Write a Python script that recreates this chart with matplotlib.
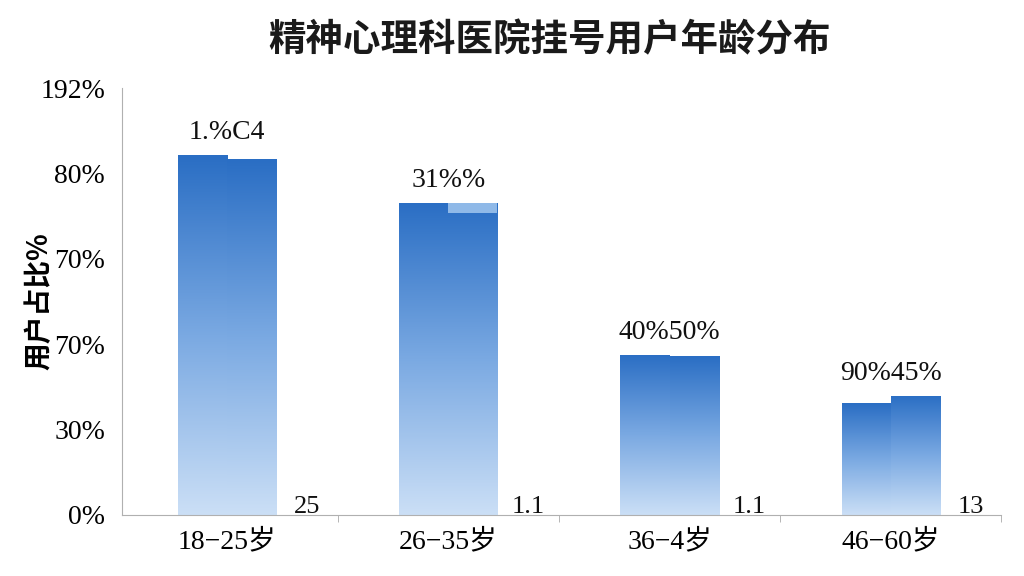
import numpy as np
import matplotlib
matplotlib.use("Agg")
import matplotlib.pyplot as plt
from matplotlib.colors import LinearSegmentedColormap

# ---------------------------------------------------------------------------
# Data
# ---------------------------------------------------------------------------
age_groups   = ["18−25岁", "26−35岁", "36−4岁", "46−60岁"]
series_left  = [84.3, 73.1, 37.5, 26.2]
series_right = [83.4, 73.1, 37.2, 27.9]
value_labels = ["1.%C4", "31%%", "40%50%", "90%45%"]
corner_notes = ["25", "1.1", "1.1", "13"]
ytick_values = [0, 20, 40, 60, 80, 100]
ytick_labels = ["0%", "30%", "70%", "70%", "80%", "192%"]

SERIF = ["Liberation Serif", "Noto Sans CJK SC"]
CJK = ["Noto Sans CJK SC", "DejaVu Sans"]
plt.rcParams["font.family"] = CJK

grad = LinearSegmentedColormap.from_list("bar", ["#cbdff6", "#7aa9e2", "#2a6ec4"])

fig = plt.figure(figsize=(10.24, 5.76), dpi=100)
ax = fig.add_axes([0.119, 0.106, 0.859, 0.741])

x = np.arange(len(age_groups))
width = 0.222

bars_l = ax.bar(x - width / 2, series_left, width)
bars_r = ax.bar(x + width / 2, series_right, width)

gradient = np.linspace(0, 1, 256).reshape(-1, 1)
for bar in list(bars_l) + list(bars_r):
    bar.set_facecolor("none")
    bar.set_edgecolor("none")
    x0, h = bar.get_x(), bar.get_height()
    im = ax.imshow(gradient, cmap=grad, origin="lower", aspect="auto",
                   extent=[x0, x0 + bar.get_width(), 0, h], zorder=2)
    im.set_clip_path(bar)

# lighter strip at the top of the second bar in group 2
ax.bar(x[1] + width / 2, 2.4, width, bottom=series_right[1] - 2.4,
       color="#8fb9e8", zorder=3)

# value labels above each group
for i, lab in enumerate(value_labels):
    top = max(series_left[i], series_right[i])
    ax.text(x[i], top + 5.2, lab, ha="center", va="center",
            fontsize=20, family=SERIF, color="#111111")

# small stray numbers next to each group at the baseline
for i, note in enumerate(corner_notes):
    ax.text(x[i] + 0.36, 1.8, note, ha="center", va="center",
            fontsize=19, family=SERIF, color="#111111")

ax.set_xlim(-0.475, 3.5)
ax.set_ylim(0, 100)
ax.set_yticks(ytick_values)
ax.set_yticklabels(ytick_labels, family=SERIF, fontsize=20)
ax.tick_params(axis="y", length=0, pad=12)

ax.set_xticks(x)
ax.set_xticklabels(age_groups, family=SERIF, fontsize=20)
ax.tick_params(axis="x", length=0, pad=10)
ax.set_xticks([0.5, 1.5, 2.5, 3.5], minor=True)
ax.tick_params(axis="x", which="minor", length=5, color="#aaaaaa")

for s in ("top", "right"):
    ax.spines[s].set_visible(False)
ax.spines["left"].set_color("#b0b0b0")
ax.spines["bottom"].set_color("#b0b0b0")

ax.set_ylabel("用户占比%", fontsize=20, fontweight="bold")
ax.yaxis.set_label_coords(-0.078, 0.5)

fig.text(0.537, 0.93, "精神心理科医院挂号用户年龄分布", ha="center", va="center",
         fontsize=27, fontweight="bold", color="#1a1a1a")

fig.savefig("out.png", dpi=100)
